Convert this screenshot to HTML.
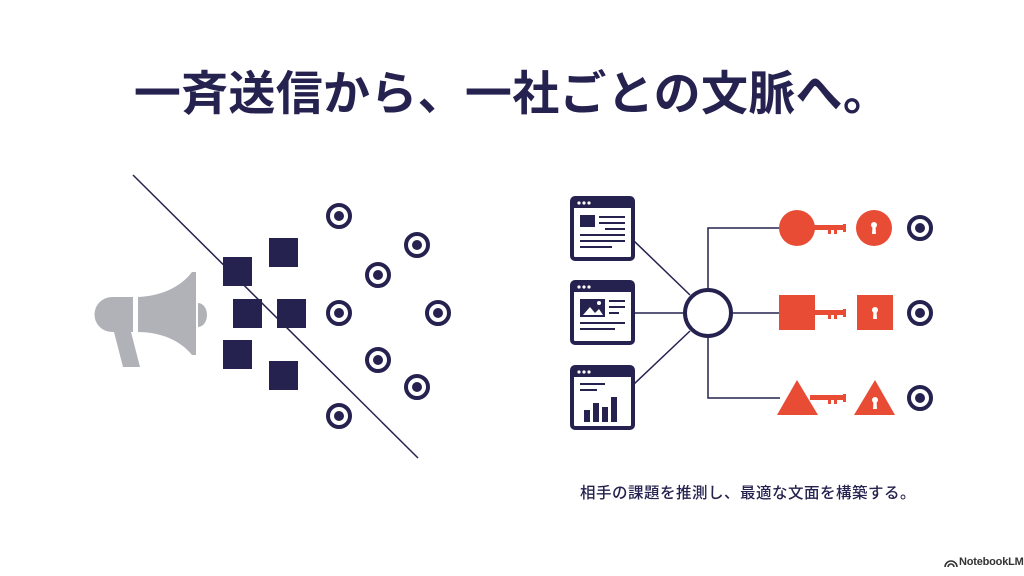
<!DOCTYPE html>
<html><head><meta charset="utf-8"><style>
html,body{margin:0;padding:0;background:#fff;}
body{width:1024px;height:576px;position:relative;overflow:hidden;font-family:"Liberation Sans","Noto Sans CJK JP",sans-serif;}
.t{position:absolute;left:0;width:1024px;top:64px;text-align:center;font-size:47px;font-weight:700;color:#25224f;line-height:60px;white-space:nowrap;letter-spacing:0.3px;}
.s{position:absolute;left:580px;top:481px;font-size:15.5px;color:#25224f;font-weight:500;white-space:nowrap;letter-spacing:0.5px;}
.l{position:absolute;left:959px;top:556px;font-size:11px;font-weight:700;color:#333;white-space:nowrap;letter-spacing:-0.2px;}
</style></head><body>
<div class="t">一斉送信から、一社ごとの文脈へ。</div>
<svg width="1024" height="576" style="position:absolute;left:0;top:0">
<defs>
<g id="tg"><circle r="11" fill="none" stroke="#25224f" stroke-width="4"/><circle r="5" fill="#25224f"/></g>
<g id="win"><rect x="0" y="0" width="61" height="61" rx="3" fill="#fff" stroke="#25224f" stroke-width="4"/><rect x="0" y="0" width="61" height="10" fill="#25224f"/><circle cx="7" cy="5" r="1.6" fill="#fff"/><circle cx="12" cy="5" r="1.6" fill="#fff"/><circle cx="17" cy="5" r="1.6" fill="#fff"/></g>
</defs>
<line x1="133" y1="175" x2="418" y2="458" stroke="#25224f" stroke-width="1.5"/>
<g fill="#b1b1b8">
<path d="M133 297 L112 297 A17 17 0 0 0 112 332 L133 332 Z"/>
<path d="M114 332 L123 367 L140 367 L131 332 Z"/>
<path d="M138 297 C160 296 180 288 192 272 L196 272 L196 355 L192 355 C180 340 160 332 138 332 Z"/>
<path d="M198 303 A9 12 0 0 1 198 327 Z"/>
</g>
<g fill="#25224f">
<rect x="223" y="257" width="29" height="29"/><rect x="269" y="238" width="29" height="29"/>
<rect x="233" y="299" width="29" height="29"/><rect x="277" y="299" width="29" height="29"/>
<rect x="223" y="340" width="29" height="29"/><rect x="269" y="361" width="29" height="29"/>
</g>
<use href="#tg" x="339" y="216"/><use href="#tg" x="417" y="245"/><use href="#tg" x="378" y="275"/>
<use href="#tg" x="339" y="313"/><use href="#tg" x="438" y="313"/><use href="#tg" x="378" y="360"/>
<use href="#tg" x="417" y="387"/><use href="#tg" x="339" y="416"/>
<g stroke="#25224f" stroke-width="1.5" fill="none">
<line x1="633" y1="240" x2="690" y2="295"/><line x1="633" y1="313" x2="684" y2="313"/><line x1="633" y1="385" x2="690" y2="331"/>
<polyline points="780,228 708,228 708,288"/><line x1="733" y1="313" x2="780" y2="313"/><polyline points="708,338 708,398 780,398"/>
</g>
<circle cx="708" cy="313" r="23" fill="#fff" stroke="#25224f" stroke-width="4"/>
<g transform="translate(572,198)"><use href="#win"/><g fill="#25224f"><rect x="8" y="17" width="15" height="12"/><rect x="27" y="18" width="26" height="2"/><rect x="27" y="24" width="26" height="2"/><rect x="33" y="30" width="20" height="2"/><rect x="8" y="36" width="45" height="2"/><rect x="8" y="42" width="45" height="2"/><rect x="8" y="48" width="32" height="2"/></g></g>
<g transform="translate(572,282)"><use href="#win"/><g fill="#25224f"><rect x="8" y="17" width="25" height="18"/><rect x="37" y="18" width="16" height="2"/><rect x="37" y="24" width="16" height="2"/><rect x="37" y="30" width="10" height="2"/><rect x="8" y="40" width="45" height="2"/><rect x="8" y="46" width="35" height="2"/></g><path d="M11 33 L18 25 L23 31 L27 27 L31 33 Z" fill="#fff"/><circle cx="27" cy="21" r="2" fill="#fff"/></g>
<g transform="translate(572,367)"><use href="#win"/><g fill="#25224f"><rect x="8" y="16" width="25" height="2"/><rect x="8" y="22" width="17" height="2"/><rect x="12" y="43" width="6" height="12"/><rect x="21" y="36" width="6" height="19"/><rect x="30" y="40" width="6" height="15"/><rect x="39" y="30" width="6" height="25"/></g></g>
<g fill="#e84c35">
<circle cx="797" cy="228" r="18"/><rect x="810" y="225" width="36" height="5"/><rect x="828" y="229" width="3" height="5"/><rect x="834" y="229" width="3" height="5"/><rect x="843" y="224" width="3" height="8"/>
<circle cx="874" cy="228" r="18"/>
<rect x="779" y="295" width="36" height="35"/><rect x="812" y="310" width="34" height="5"/><rect x="828" y="314" width="3" height="5"/><rect x="834" y="314" width="3" height="5"/><rect x="843" y="309" width="3" height="8"/>
<rect x="857" y="295" width="36" height="35"/>
<path d="M797 380 L818 415 L777 415 Z"/><rect x="810" y="395" width="36" height="5"/><rect x="828" y="399" width="3" height="5"/><rect x="834" y="399" width="3" height="5"/><rect x="843" y="394" width="3" height="8"/>
<path d="M875 380 L895 415 L854 415 Z"/>
</g>
<g fill="#fff">
<circle cx="874" cy="225" r="3"/><path d="M872.5 226 L875.5 226 L876 234 L872 234 Z"/>
<circle cx="875" cy="310" r="3"/><path d="M873.5 311 L876.5 311 L877 319 L873 319 Z"/>
<circle cx="875" cy="400" r="3"/><path d="M873.5 401 L876.5 401 L877 409 L873 409 Z"/>
</g>
<use href="#tg" x="920" y="228"/><use href="#tg" x="920" y="313"/><use href="#tg" x="920" y="398"/>
<g fill="none" stroke="#333" stroke-width="1.6"><path d="M945 567 A6 6 0 0 1 957 567"/><path d="M948 567 A3 3 0 0 1 954 567"/></g>
</svg>
<div class="s">相手の課題を推測し、最適な文面を構築する。</div>
<div class="l">NotebookLM</div>
</body></html>
